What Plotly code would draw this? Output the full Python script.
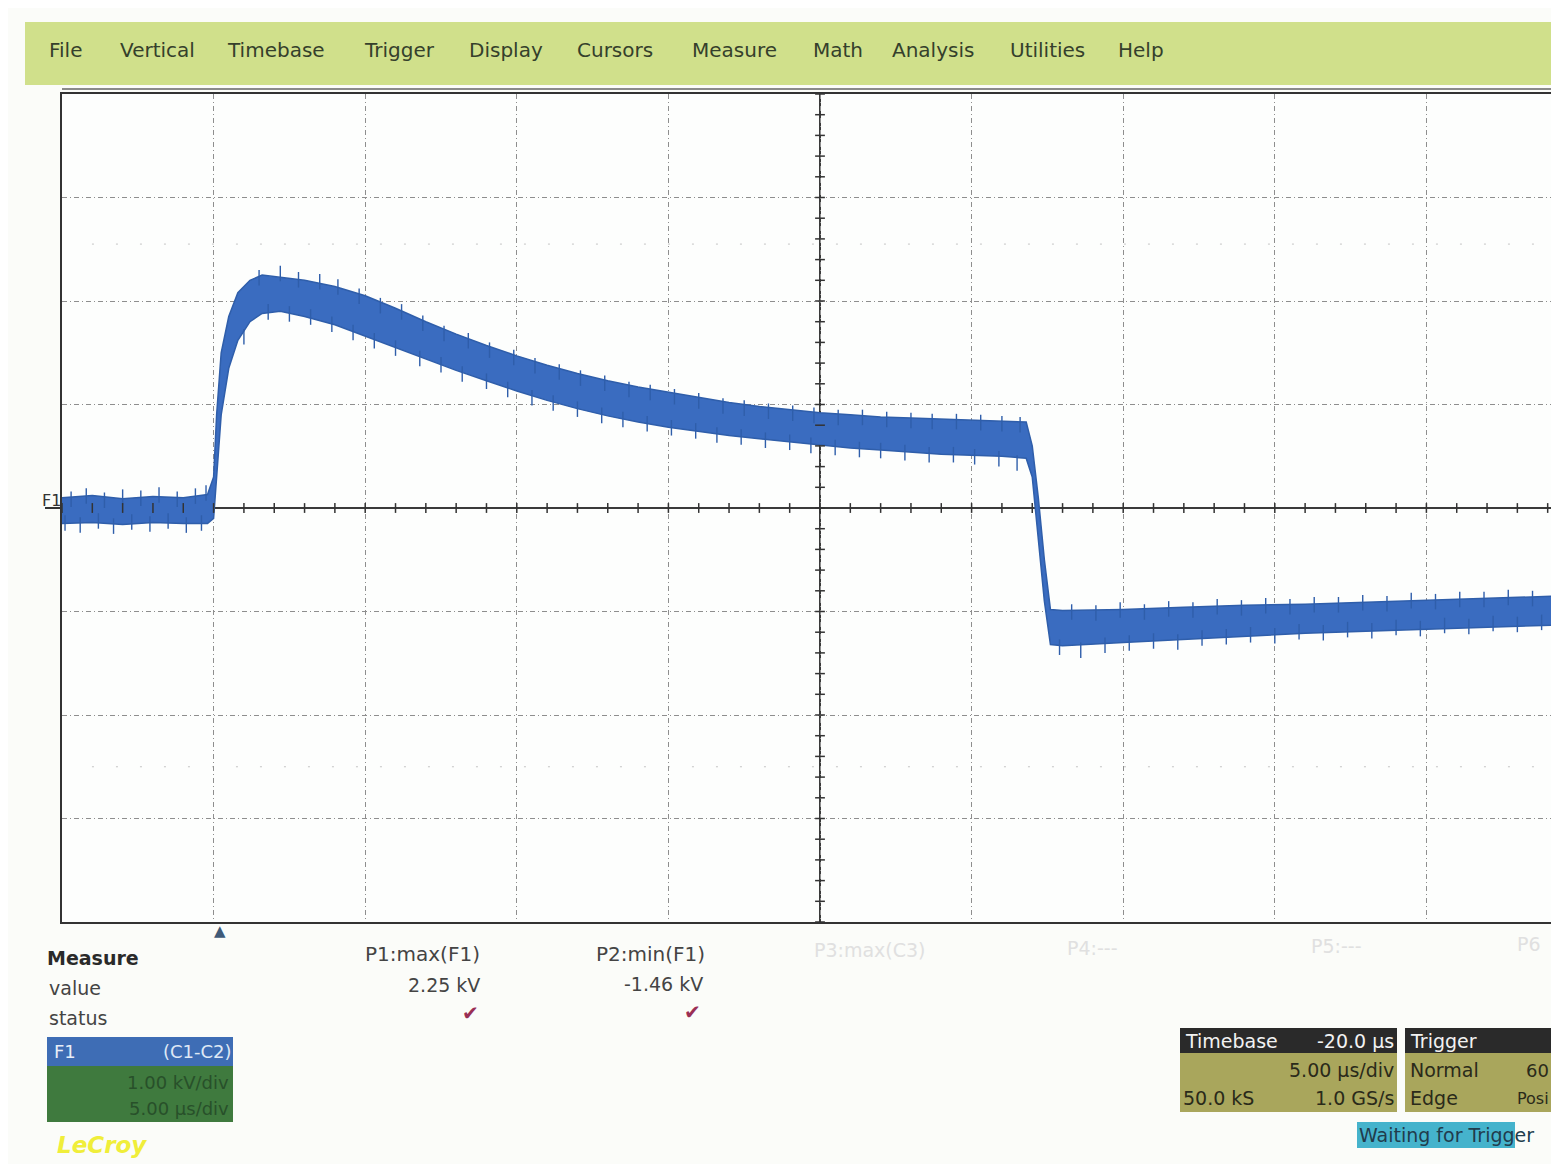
import plotly.graph_objects as go
import numpy as np

# ---------------- data (time in µs relative to trigger, voltage in kV) -------------
t_us = [-5.0, -4.0, -3.0, -2.0, -1.0, -0.2, 0.0, 0.1, 0.25, 0.5, 0.8, 1.2, 1.6, 2.2,
        3.0, 4.0, 5.0, 6.0, 7.0, 8.0, 9.0, 10.0, 11.0, 12.0, 13.0, 14.0, 15.0, 16.0,
        17.0, 18.0, 19.0, 20.0, 21.0, 22.0, 23.0, 24.0, 25.0, 26.0, 26.8, 27.0, 27.2,
        27.4, 27.6, 28.0, 30.0, 32.0, 34.0, 36.0, 38.0, 40.0, 42.0, 44.4]
upper_kv = [0.10, 0.12, 0.09, 0.11, 0.10, 0.13, 0.30, 0.90, 1.50, 1.85, 2.08, 2.20, 2.25, 2.23,
            2.20, 2.14, 2.05, 1.93, 1.80, 1.68, 1.57, 1.47, 1.38, 1.30, 1.23, 1.17, 1.12, 1.07,
            1.02, 0.98, 0.95, 0.92, 0.90, 0.88, 0.87, 0.86, 0.85, 0.84, 0.83, 0.60, 0.10,
            -0.50, -0.98, -0.99, -0.98, -0.96, -0.94, -0.93, -0.91, -0.89, -0.87, -0.85]
lower_kv = [-0.15, -0.14, -0.16, -0.14, -0.15, -0.15, -0.10, 0.30, 0.90, 1.35, 1.62, 1.80, 1.88, 1.90,
            1.85, 1.77, 1.66, 1.55, 1.44, 1.33, 1.23, 1.13, 1.04, 0.96, 0.89, 0.83, 0.78, 0.74,
            0.70, 0.67, 0.64, 0.61, 0.58, 0.56, 0.54, 0.52, 0.51, 0.50, 0.48, 0.30, -0.30,
            -0.90, -1.32, -1.33, -1.30, -1.27, -1.24, -1.21, -1.19, -1.17, -1.15, -1.13]

spike_up_t = [-4.7, -4.2, -3.6, -3.0, -2.4, -1.8, -1.2, -0.6, -0.25,
              1.5, 2.2, 2.8, 3.5, 4.1, 4.8, 5.5, 6.2, 6.9, 7.6, 8.4, 9.1, 9.9, 10.6, 11.4, 12.1,
              12.9, 13.7, 14.4, 15.2, 16.0, 16.8, 17.5, 18.3, 19.1, 19.8, 20.6, 21.4, 22.2, 23.0,
              23.7, 24.5, 25.3, 26.0, 26.6,
              28.3, 29.1, 29.9, 30.7, 31.5, 32.3, 33.1, 33.9, 34.7, 35.5, 36.3, 37.1, 37.9, 38.7,
              39.5, 40.3, 41.1, 41.9, 42.7, 43.5, 44.2]
spike_up_v = [0.16, 0.19, 0.15, 0.18, 0.17, 0.20, 0.16, 0.19, 0.22,
              2.30, 2.34, 2.28, 2.26, 2.21, 2.12, 2.03, 1.97, 1.86, 1.76, 1.69, 1.60, 1.53, 1.45, 1.39, 1.33,
              1.28, 1.22, 1.19, 1.15, 1.11, 1.06, 1.04, 1.01, 0.99, 0.97, 0.95, 0.95, 0.93, 0.92,
              0.91, 0.91, 0.90, 0.89, 0.88,
              -0.93, -0.94, -0.91, -0.93, -0.90, -0.91, -0.88, -0.89, -0.87, -0.88, -0.86, -0.86, -0.84, -0.85,
              -0.82, -0.83, -0.81, -0.81, -0.79, -0.80, -0.78]
spike_dn_t = [-4.9, -4.4, -3.8, -3.3, -2.7, -2.1, -1.5, -0.9, -0.4,
              1.0, 1.8, 2.5, 3.2, 3.9, 4.6, 5.3, 6.0, 6.8, 7.5, 8.2, 9.0, 9.7, 10.5, 11.2, 12.0,
              12.8, 13.5, 14.3, 15.1, 15.9, 16.6, 17.4, 18.2, 19.0, 19.7, 20.5, 21.3, 22.0, 22.8,
              23.6, 24.4, 25.1, 25.9, 26.5,
              27.9, 28.6, 29.4, 30.2, 31.0, 31.8, 32.6, 33.4, 34.2, 35.0, 35.8, 36.6, 37.4, 38.2,
              39.0, 39.8, 40.6, 41.4, 42.2, 43.0, 43.8]
spike_dn_v = [-0.22, -0.24, -0.20, -0.25, -0.21, -0.23, -0.20, -0.24, -0.22,
              1.58, 1.82, 1.80, 1.77, 1.70, 1.62, 1.54, 1.47, 1.37, 1.31, 1.22, 1.15, 1.07, 0.99, 0.94, 0.88,
              0.82, 0.78, 0.74, 0.70, 0.67, 0.63, 0.61, 0.58, 0.56, 0.53, 0.51, 0.49, 0.48, 0.46,
              0.44, 0.44, 0.42, 0.40, 0.36,
              -1.42, -1.45, -1.40, -1.38, -1.36, -1.37, -1.33, -1.32, -1.30, -1.31, -1.27, -1.28, -1.25, -1.26,
              -1.23, -1.24, -1.21, -1.22, -1.19, -1.20, -1.18]

menu_items = ["File", "Vertical", "Timebase", "Trigger", "Display", "Cursors",
              "Measure", "Math", "Analysis", "Utilities", "Help"]
menu_px = [47, 118, 225, 362, 467, 575, 690, 811, 890, 1008, 1116]

# ---------------- layout helpers (screen pixels -> paper) ------------------------
OFF = 8                      # page body margin
SW, SH = 1559, 1164          # screen size
WF, HF = SW - OFF, SH - OFF  # figure size
PL, PT, PB = 62, 94, 922     # plot area edges in screen pixels


def PX(px):
    return (px - PL) / (SW - PL)


def PY(py):
    return (PB - py) / (PB - PT)


FONT = "DejaVu Sans, Liberation Sans, sans-serif"
BLUE = "#3a6cc0"
EDGE = "#2f5eaa"

fig = go.Figure()

fig.add_trace(go.Scatter(x=t_us, y=upper_kv, mode="lines", line=dict(color=EDGE, width=1.5),
                         hoverinfo="skip", showlegend=False))
fig.add_trace(go.Scatter(x=t_us, y=lower_kv, mode="lines", line=dict(color=EDGE, width=1.5),
                         fill="tonexty", fillcolor=BLUE, hoverinfo="skip", showlegend=False))

SPIKE_LEN = 0.15
sx, sy = [], []
for t, v in zip(spike_up_t, spike_up_v):
    sx += [t, t, None]
    sy += [v, v - SPIKE_LEN, None]
for t, v in zip(spike_dn_t, spike_dn_v):
    sx += [t, t, None]
    sy += [v, v + SPIKE_LEN, None]
fig.add_trace(go.Scatter(x=sx, y=sy, mode="lines", line=dict(color=EDGE, width=1.4),
                         hoverinfo="skip", showlegend=False))

# graticule tick marks on the centre axes
xr = [-5, -5 + (SW - PL) / 151.6 * 5]
tx = np.arange(-5, 45.01, 1.0)
fig.add_trace(go.Scatter(x=tx, y=np.zeros_like(tx), mode="markers",
                         marker=dict(symbol="line-ns", size=7, line=dict(color="#333", width=1.5)),
                         hoverinfo="skip", showlegend=False))
ty = np.arange(-4, 4.01, 0.2)
fig.add_trace(go.Scatter(x=np.full_like(ty, 20.0), y=ty, mode="markers",
                         marker=dict(symbol="line-ew", size=7, line=dict(color="#333", width=1.5)),
                         hoverinfo="skip", showlegend=False))

shapes = []
shapes.append(dict(type="line", xref="x", yref="y", x0=20, x1=20, y0=-4, y1=4,
                   line=dict(color="#3a3a3a", width=2), layer="below"))
for yv in (2.55, -2.5):
    shapes.append(dict(type="line", xref="paper", yref="y", x0=0.02, x1=1, y0=yv, y1=yv,
                       line=dict(color="#c4c4c4", width=1, dash="2px,22px"), layer="below"))
shapes.append(dict(type="line", xref="paper", yref="y", x0=PX(45), x1=PX(62), y0=0, y1=0,
                   line=dict(color="#333", width=2)))
# menu bar
shapes.append(dict(type="rect", xref="paper", yref="paper", x0=PX(25), x1=PX(1600), y0=PY(85), y1=PY(22),
                   fillcolor="#d0e08b", line=dict(width=0)))
shapes.append(dict(type="line", xref="paper", yref="paper", x0=PX(62), x1=PX(1600), y0=PY(89), y1=PY(89),
                   line=dict(color="#8a8a8a", width=2)))
# F1 box
shapes.append(dict(type="rect", xref="paper", yref="paper", x0=PX(47), x1=PX(233), y0=PY(1066), y1=PY(1037),
                   fillcolor="#3e6db5", line=dict(width=0)))
shapes.append(dict(type="rect", xref="paper", yref="paper", x0=PX(47), x1=PX(233), y0=PY(1122), y1=PY(1066),
                   fillcolor="#3f7a3e", line=dict(width=0)))
# timebase box
shapes.append(dict(type="rect", xref="paper", yref="paper", x0=PX(1180), x1=PX(1397), y0=PY(1053), y1=PY(1028),
                   fillcolor="#2a2a2a", line=dict(width=0)))
shapes.append(dict(type="rect", xref="paper", yref="paper", x0=PX(1180), x1=PX(1397), y0=PY(1112), y1=PY(1053),
                   fillcolor="#a9a65c", line=dict(width=0)))
# trigger box
shapes.append(dict(type="rect", xref="paper", yref="paper", x0=PX(1405), x1=PX(1600), y0=PY(1053), y1=PY(1028),
                   fillcolor="#2a2a2a", line=dict(width=0)))
shapes.append(dict(type="rect", xref="paper", yref="paper", x0=PX(1405), x1=PX(1600), y0=PY(1112), y1=PY(1053),
                   fillcolor="#a9a65c", line=dict(width=0)))
# waiting-for-trigger highlight
shapes.append(dict(type="rect", xref="paper", yref="paper", x0=PX(1357), x1=PX(1515), y0=PY(1148), y1=PY(1122),
                   fillcolor="#45b3cc", line=dict(width=0)))

ann = []


def text(px, py, s, size=16, color="#333", anchor="left", bold=False, italic=False):
    if bold:
        s = "<b>" + s + "</b>"
    if italic:
        s = "<i>" + s + "</i>"
    ann.append(dict(xref="paper", yref="paper", x=PX(px), y=PY(py), text=s, showarrow=False,
                    xanchor=anchor, yanchor="middle", font=dict(size=size, color=color, family=FONT)))


for name, px in zip(menu_items, menu_px):
    text(px, 50, name, size=20, color="#35402c")

text(40, 501, "F1", size=16, color="#333")
text(220, 931, "▲", size=15, color="#3f5a78", anchor="center")

text(45, 958, "Measure", size=19, color="#2a2a2a", bold=True)
text(47, 988, "value", size=19, color="#444")
text(47, 1018, "status", size=19, color="#444")

text(482, 954, "P1:max(F1)", size=20, color="#444", anchor="right")
text(482, 985, "2.25 kV", size=19, color="#444", anchor="right")
text(470, 1013, "✔", size=20, color="#9a2f55", anchor="center")
text(707, 954, "P2:min(F1)", size=20, color="#444", anchor="right")
text(705, 984, "-1.46 kV", size=19, color="#444", anchor="right")
text(692, 1012, "✔", size=20, color="#9a2f55", anchor="center")
text(928, 950, "P3:max(C3)", size=19, color="#e0e0e0", anchor="right")
text(1120, 948, "P4:---", size=19, color="#e0e0e0", anchor="right")
text(1364, 946, "P5:---", size=19, color="#e0e0e0", anchor="right")
text(1515, 944, "P6", size=19, color="#e0e0e0", anchor="left")

text(52, 1051, "F1", size=18, color="#e8eef8")
text(234, 1051, "(C1-C2)", size=18, color="#dfe8f5", anchor="right")
text(231, 1082, "1.00 kV/div", size=18, color="#28502a", anchor="right")
text(231, 1108, "5.00 µs/div", size=18, color="#28502a", anchor="right")
text(55, 1145, "LeCroy", size=23, color="#f0ee3a", bold=True, italic=True)

text(1183, 1041, "Timebase", size=19, color="#f2f2f2")
text(1396, 1041, "-20.0 µs", size=19, color="#f2f2f2", anchor="right")
text(1396, 1070, "5.00 µs/div", size=19, color="#2a2a1a", anchor="right")
text(1181, 1098, "50.0 kS", size=19, color="#2a2a1a")
text(1396, 1098, "1.0 GS/s", size=19, color="#2a2a1a", anchor="right")
text(1408, 1041, "Trigger", size=19, color="#f2f2f2")
text(1408, 1070, "Normal", size=19, color="#2a2a1a")
text(1524, 1070, "60", size=18, color="#2a2a1a")
text(1408, 1098, "Edge", size=19, color="#2a2a1a")
text(1515, 1098, "Posi", size=16, color="#2a2a1a")
text(1357, 1135, "Waiting for Trigger", size=19, color="#213c4c")

fig.update_layout(
    width=WF, height=HF,
    margin=dict(l=PL - OFF, r=0, t=PT - OFF, b=HF - (PB - OFF), pad=0),
    paper_bgcolor="#fbfcf9", plot_bgcolor="#fdfefd",
    showlegend=False,
    shapes=shapes, annotations=ann,
    xaxis=dict(range=xr, tick0=-5, dtick=5, showticklabels=False, ticks="",
               showgrid=True, gridcolor="#8e8e8e", gridwidth=1, griddash="5px,3px,1px,3px",
               zeroline=False, showline=True, linecolor="#333", linewidth=2, mirror=True,
               fixedrange=True),
    yaxis=dict(range=[-4, 4], tick0=-4, dtick=1, showticklabels=False, ticks="",
               showgrid=True, gridcolor="#8e8e8e", gridwidth=1, griddash="5px,3px,1px,3px",
               zeroline=True, zerolinecolor="#3a3a3a", zerolinewidth=1.5,
               showline=True, linecolor="#333", linewidth=2, mirror=False,
               fixedrange=True),
)

fig.write_html("out.html")
